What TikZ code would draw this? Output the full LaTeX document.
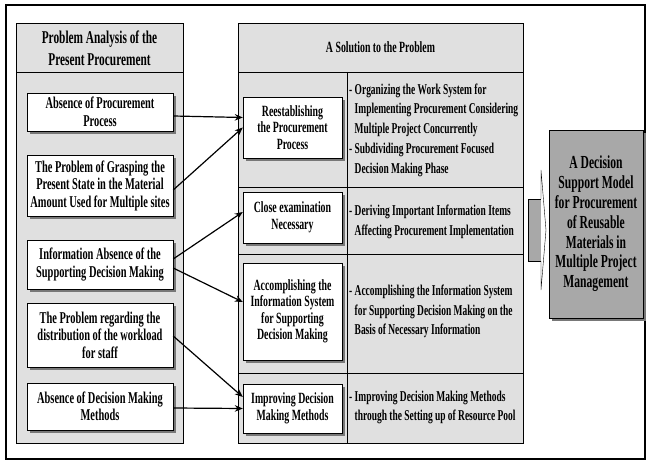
\documentclass[tikz,border=0pt]{standalone}
\usepackage{fontspec}
\setmainfont[FakeStretch=0.63]{Liberation Serif}
\usetikzlibrary{arrows.meta,shadows}
\definecolor{panelgray}{RGB}{224,224,224}
\definecolor{modelgray}{RGB}{168,168,168}
\definecolor{shadowgray}{RGB}{120,120,120}

\begin{document}
\begin{tikzpicture}[x=1pt,y=-1pt,
    panel/.style={draw,fill=panelgray},
    headtext/.style={font=\bfseries\fontsize{15.6}{18}\selectfont,align=center},
    probbox/.style={draw,fill=white,align=center,inner sep=0pt,minimum width=146pt,
        font=\bfseries\fontsize{16.5}{17.5}\selectfont,
        drop shadow={shadow xshift=3pt,shadow yshift=-3pt,fill=shadowgray,opacity=1}},
    solbox/.style={draw,fill=white,align=center,inner sep=0pt,minimum width=99pt,
        font=\bfseries\fontsize{15.6}{16.5}\selectfont,
        drop shadow={shadow xshift=3pt,shadow yshift=-3pt,fill=shadowgray,opacity=1}},
    itemtext/.style={anchor=west,align=left,inner sep=0pt,
        font=\bfseries\fontsize{15}{19.7}\selectfont},
    modelbox/.style={draw,fill=modelgray,align=center,inner sep=0pt,
        minimum width=94pt,minimum height=188pt,
        font=\bfseries\fontsize{18.4}{19.8}\selectfont,
        drop shadow={shadow xshift=3pt,shadow yshift=-3pt,fill=shadowgray,opacity=1}},
    link/.style={draw,line width=1.2pt,-{Stealth[length=8pt,width=6.5pt]}}]
    \useasboundingbox (0,0) rectangle (648,462);
    \draw [line width=1.5pt] (6,5) rectangle (645,459);
    \draw [panel] (16,23) rectangle (183,443);
    \draw (16,72) -- (183,72);
    \draw [panel] (238,23) rectangle (523,443);
    \foreach \y in {72,187,254,373}
        \draw (238,\y) -- (523,\y);
    \draw (347,72) -- (347,443);
    \node [headtext,font=\bfseries\fontsize{18}{22}\selectfont] (probhead) at (99.5,48) {Problem Analysis of the\\Present Procurement};
    \node [headtext] (solhead) at (380.5,47.5) {A Solution to the Problem};
    \node [probbox,minimum height=38pt] (lA) at (100,112) {Absence of Procurement\\Process};
    \node [probbox,minimum height=61pt] (lB) at (100,185.5) {The Problem of Grasping the\\Present State in the Material\\Amount Used for Multiple sites};
    \node [probbox,minimum height=49pt] (lC) at (100,264.5) {Information Absence of the\\Supporting Decision Making};
    \node [probbox,minimum height=64pt] (lD) at (100,335) {The Problem regarding the\\distribution of the workload\\for staff};
    \node [probbox,minimum height=47pt] (lE) at (100,406.5) {Absence of Decision Making\\Methods};
    \node [solbox,minimum height=61pt] (mA) at (292.5,127.5) {Reestablishing\\the Procurement\\Process};
    \node [solbox,minimum height=51pt] (mB) at (292.5,217.5) {Close examination\\Necessary};
    \node [solbox,minimum height=97pt] (mC) at (292.5,311.5) {Accomplishing the\\Information System\\for Supporting\\Decision Making};
    \node [solbox,minimum height=49pt] (mD) at (292.5,408.5) {Improving Decision\\Making Methods};
    \node [itemtext] (tA) at (349,130) {- Organizing the Work System for\\\hphantom{- }Implementing Procurement Considering\\\hphantom{- }Multiple Project Concurrently\\- Subdividing Procurement Focused\\\hphantom{- }Decision Making Phase};
    \node [itemtext] (tB) at (349,222) {- Deriving Important Information Items\\\hphantom{- }Affecting Procurement Implementation};
    \node [itemtext] (tC) at (349,311.5) {- Accomplishing the Information System\\\hphantom{- }for Supporting Decision Making on the\\\hphantom{- }Basis of Necessary Information};
    \node [itemtext] (tD) at (349,407.5) {- Improving Decision Making Methods\\\hphantom{- }through the Setting up of Resource Pool};
    \node [modelbox] (model) at (596,224) {A Decision\\Support Model\\for Procurement\\of Reusable\\Materials in\\Multiple Project\\Management};
    \draw [fill=modelgray] (528,199) -- (541,199) -- (541,261) -- (528,261) -- cycle;
    \draw [fill=white] (541,199) -- (541,170) -- (546,230) -- (541,290) -- (541,261);
    \path [link] ([yshift=-4pt]lA.east) -- ([yshift=10pt]mA.west);
    \path [link] ([yshift=-4.5pt]lB.east) -- (mA.west);
    \path [link] ([yshift=5.5pt]lC.east) -- ([yshift=5.5pt]mB.west);
    \path [link] ([yshift=-3.5pt]lC.east) -- ([yshift=9.5pt]mC.west);
    \path [link] ([yshift=-1pt]lD.east) -- ([yshift=11.5pt]mD.west);
    \path [link] ([yshift=-1.5pt]lE.east) -- (mD.west);
\end{tikzpicture}
\end{document}
